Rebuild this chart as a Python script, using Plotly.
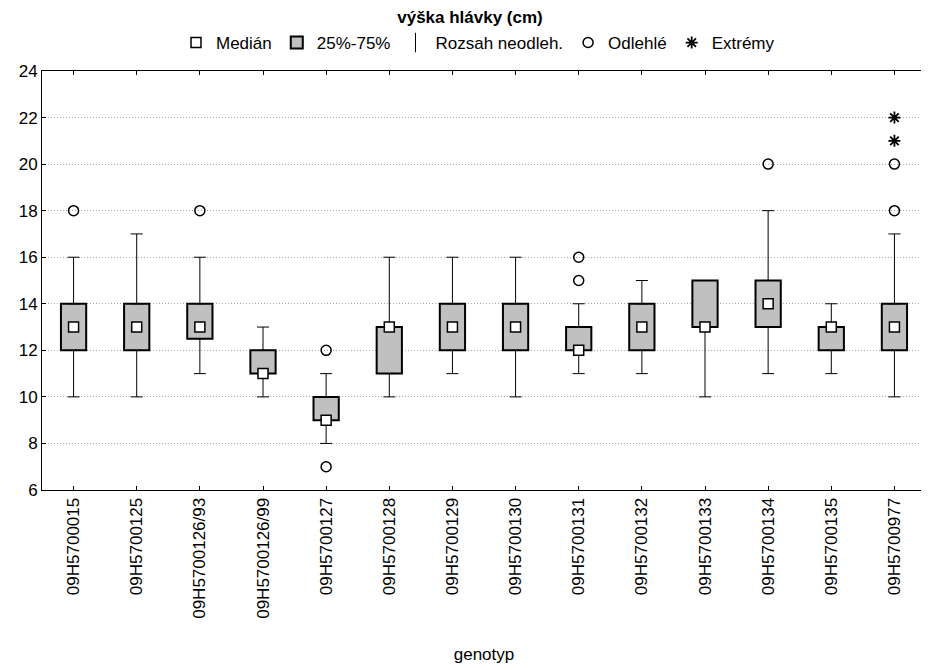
import plotly.graph_objects as go

categories = ["09H5700015", "09H5700125", "09H5700126/93", "09H5700126/99", "09H5700127",
              "09H5700128", "09H5700129", "09H5700130", "09H5700131", "09H5700132",
              "09H5700133", "09H5700134", "09H5700135", "09H5700977"]
median = [13, 13, 13, 11, 9, 13, 13, 13, 12, 13, 13, 14, 13, 13]
q1 = [12, 12, 12.5, 11, 9, 11, 12, 12, 12, 12, 13, 13, 12, 12]
q3 = [14, 14, 14, 12, 10, 13, 14, 14, 13, 14, 15, 15, 13, 14]
whisk_lo = [10, 10, 11, 10, 8, 10, 11, 10, 11, 11, 10, 11, 11, 10]
whisk_hi = [16, 17, 16, 13, 11, 16, 16, 16, 14, 15, 15, 18, 14, 17]
outlier_cat = ["09H5700015", "09H5700126/93", "09H5700127", "09H5700127", "09H5700131",
               "09H5700131", "09H5700134", "09H5700977", "09H5700977"]
outlier_val = [18, 18, 12, 7, 15, 16, 20, 18, 20]
extreme_cat = ["09H5700977", "09H5700977"]
extreme_val = [21, 22]

FONT = "Liberation Sans, Arial, sans-serif"
FS = 17
W, H = 921, 662  # page body has an 8px margin
fig = go.Figure()

# boxes (25%-75%)
fig.add_trace(go.Bar(
    x=categories, y=[b - a for a, b in zip(q1, q3)], base=q1, width=0.4,
    marker=dict(color="#c0c0c0", line=dict(color="black", width=2)),
    name="25%-75%", showlegend=True))

# whiskers: lower
fig.add_trace(go.Scatter(
    x=categories, y=q1, mode="markers", marker=dict(size=1, opacity=0),
    error_y=dict(type="data", symmetric=False, array=[0] * len(q1),
                 arrayminus=[a - b for a, b in zip(q1, whisk_lo)],
                 color="black", thickness=1, width=6),
    showlegend=False, hoverinfo="skip"))
# whiskers: upper
fig.add_trace(go.Scatter(
    x=categories, y=q3, mode="markers", marker=dict(size=1, opacity=0),
    error_y=dict(type="data", symmetric=False, array=[b - a for a, b in zip(q3, whisk_hi)],
                 arrayminus=[0] * len(q3),
                 color="black", thickness=1, width=6),
    showlegend=False, hoverinfo="skip"))

# medians
fig.add_trace(go.Scatter(
    x=categories, y=median, mode="markers", name="Medián",
    marker=dict(symbol="square", size=10, color="white", line=dict(color="black", width=1.5))))

# legend entry for whisker range
fig.add_trace(go.Scatter(
    x=[None], y=[None], mode="markers", name="Rozsah neodleh.",
    marker=dict(symbol="line-ns-open", size=14, color="black", line=dict(color="black", width=1))))

# outliers
fig.add_trace(go.Scatter(
    x=outlier_cat, y=outlier_val, mode="markers", name="Odlehlé",
    marker=dict(symbol="circle-open", size=10, color="black", line=dict(color="black", width=1.5))))

# extremes
fig.add_trace(go.Scatter(
    x=extreme_cat, y=extreme_val, mode="markers", name="Extrémy",
    marker=dict(symbol="asterisk-open", size=10, color="black", line=dict(color="black", width=1.8))))

fig.data[3].legendrank = 1
fig.data[0].legendrank = 2
fig.data[4].legendrank = 3
fig.data[5].legendrank = 4
fig.data[6].legendrank = 5

plot_h = H - 63 - 180
fig.update_layout(
    width=W, height=H,
    margin=dict(l=34, r=3, t=63, b=180, autoexpand=False),
    paper_bgcolor="white", plot_bgcolor="white",
    font=dict(family=FONT, size=FS, color="black"),
    title=dict(text="<b>výška hlávky (cm)</b>", x=(470 - 8) / W, xanchor="center",
               y=1 - 9 / H, yanchor="middle", font=dict(size=FS, family=FONT)),
    legend=dict(orientation="h", x=(478 - 8 - 34) / (W - 37), xanchor="center",
                y=1 + 28 / plot_h, yanchor="middle",
                font=dict(size=FS, family=FONT), itemwidth=30, tracegroupgap=0,
                bgcolor="rgba(0,0,0,0)"),
    showlegend=True,
)
fig.update_xaxes(
    type="category", range=[-0.5, 13.5], tickangle=-90,
    showline=True, linecolor="black", linewidth=1, mirror="ticks",
    ticks="inside", ticklen=4, tickcolor="black", showgrid=False,
    tickfont=dict(size=FS, family=FONT),
    title=dict(text="genotyp", font=dict(size=FS, family=FONT), standoff=30))
fig.update_yaxes(
    range=[6, 24], tickvals=[6, 8, 10, 12, 14, 16, 18, 20, 22, 24],
    showline=True, linecolor="black", linewidth=1, mirror="ticks",
    ticks="inside", ticklen=4, tickcolor="black",
    showgrid=True, gridcolor="#a8a8a8", griddash="1px,2px", gridwidth=1,
    zeroline=False, tickfont=dict(size=FS, family=FONT))

fig.write_html("out.html")
